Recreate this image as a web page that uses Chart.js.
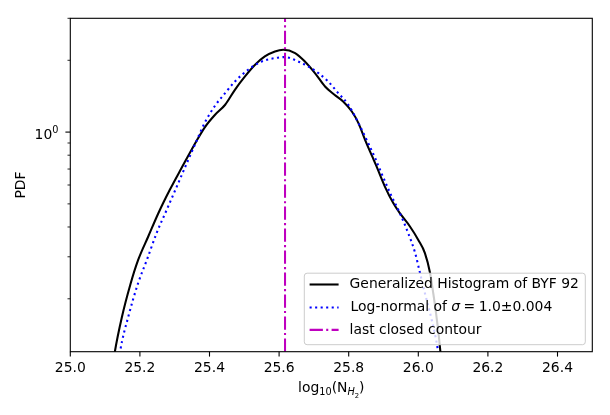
<!DOCTYPE html>
<html><head><meta charset="utf-8">
<script src="https://cdn.jsdelivr.net/npm/chart.js@4/dist/chart.umd.min.js"></script>
<style>html,body{margin:0;padding:0;background:#fff}canvas{display:block}</style>
</head><body>
<canvas id="c" width="610" height="415" style="width:610px;height:415px"></canvas>
<script>
// ---- data ----
const histX = [25.120, 25.128, 25.148, 25.172, 25.195, 25.224, 25.253, 25.286, 25.320, 25.363, 25.387, 25.416, 25.445, 25.473, 25.502, 25.531, 25.559, 25.588, 25.612, 25.646, 25.674, 25.703, 25.732, 25.759, 25.784, 25.809, 25.828, 25.847, 25.866, 25.880, 25.904, 25.928, 25.947, 25.976, 26.000, 26.019, 26.034, 26.043, 26.051, 26.060, 26.063, 26.067];
const histY = [0.100, 0.120, 0.167, 0.228, 0.291, 0.365, 0.457, 0.573, 0.708, 0.920, 1.050, 1.182, 1.302, 1.504, 1.711, 1.915, 2.075, 2.177, 2.213, 2.144, 1.977, 1.768, 1.553, 1.434, 1.344, 1.220, 1.091, 0.928, 0.800, 0.718, 0.591, 0.504, 0.457, 0.402, 0.353, 0.311, 0.256, 0.211, 0.174, 0.135, 0.122, 0.108];
const lognX = [25.136, 25.143, 25.167, 25.195, 25.220, 25.248, 25.277, 25.306, 25.339, 25.363, 25.387, 25.416, 25.445, 25.473, 25.511, 25.550, 25.588, 25.617, 25.655, 25.684, 25.713, 25.741, 25.770, 25.799, 25.828, 25.856, 25.876, 25.890, 25.919, 25.947, 25.971, 25.991, 26.005, 26.019, 26.034, 26.051, 26.057, 26.062];
const lognY = [0.100, 0.120, 0.169, 0.233, 0.291, 0.377, 0.472, 0.591, 0.765, 0.920, 1.100, 1.290, 1.457, 1.630, 1.825, 1.977, 2.043, 2.063, 1.977, 1.884, 1.768, 1.630, 1.457, 1.302, 1.091, 0.899, 0.778, 0.695, 0.555, 0.457, 0.377, 0.311, 0.256, 0.211, 0.174, 0.135, 0.120, 0.108];
const contourX = 25.617;
const xTicks = [25.0, 25.2, 25.4, 25.6, 25.8, 26.0, 26.2, 26.4];
const yMajorTicks = [1];
const yMinorTicks = [0.2, 0.3, 0.4, 0.5, 0.6, 0.7, 0.8, 0.9, 2, 3];
const xMin = 25.0, xMax = 26.5, yMin = 0.12, yMax = 3.0;
const seriesLabels = ["Generalized Histogram of BYF 92", "Log-normal of ", "last closed contour"];

const FS = 13.9;
const FONT = '"DejaVu Sans"';
const f = (s, style) => (style || '') + ' ' + s + 'px ' + FONT;

function pts(xs, ys) { return xs.map((x, i) => ({x: x, y: ys[i]})); }

const customPlugin = {
  id: 'custom',
  beforeDraw(chart) {
    const ctx = chart.ctx;
    ctx.save();
    ctx.fillStyle = '#fff';
    ctx.fillRect(0, 0, chart.width, chart.height);
    ctx.restore();
  },
  afterDraw(chart) {
    const ctx = chart.ctx, a = chart.chartArea, xs = chart.scales.x, ys = chart.scales.y;
    ctx.save();
    // spines
    ctx.strokeStyle = '#000';
    ctx.lineWidth = 1.1;
    ctx.strokeRect(a.left, a.top, a.right - a.left, a.bottom - a.top);
    // x ticks
    ctx.lineWidth = 1.1;
    ctx.fillStyle = '#000';
    ctx.font = f(FS);
    ctx.textAlign = 'center';
    ctx.textBaseline = 'alphabetic';
    xTicks.forEach(t => {
      const px = xs.getPixelForValue(t);
      ctx.beginPath(); ctx.moveTo(px, a.bottom); ctx.lineTo(px, a.bottom + 4.9); ctx.stroke();
      ctx.fillText(t.toFixed(1), px, a.bottom + 19.8);
    });
    // y ticks
    yMajorTicks.forEach(t => {
      const py = ys.getPixelForValue(t);
      ctx.lineWidth = 1.1;
      ctx.beginPath(); ctx.moveTo(a.left, py); ctx.lineTo(a.left - 4.9, py); ctx.stroke();
      const exp = String(Math.round(Math.log10(t)));
      ctx.font = f(FS);
      const w1 = ctx.measureText('10').width;
      ctx.font = f(FS * 0.7);
      const w2 = ctx.measureText(exp).width;
      const right = a.left - 4.9 - 7;
      ctx.textAlign = 'left';
      ctx.font = f(FS);
      ctx.fillText('10', right - w1 - w2, py + 7);
      ctx.font = f(FS * 0.7);
      ctx.fillText(exp, right - w2, py + 0.8);
    });
    yMinorTicks.forEach(t => {
      const py = ys.getPixelForValue(t);
      ctx.lineWidth = 0.85;
      ctx.beginPath(); ctx.moveTo(a.left, py); ctx.lineTo(a.left - 2.8, py); ctx.stroke();
    });
    // y label
    ctx.save();
    ctx.translate(21.7, (a.top + a.bottom) / 2);
    ctx.rotate(-Math.PI / 2);
    ctx.font = f(FS);
    ctx.textAlign = 'center';
    ctx.textBaseline = 'middle';
    ctx.fillText('PDF', 0, 0);
    ctx.restore();
    // x label: log_10(N_{H_2})
    const parts = [
      {t: 'log', s: FS, dy: 0, st: ''},
      {t: '10', s: FS * 0.7, dy: 3.3, st: ''},
      {t: '(N', s: FS, dy: 0, st: ''},
      {t: 'H', s: FS * 0.7, dy: 3.3, st: 'italic'},
      {t: '2', s: FS * 0.49, dy: 5.8, st: ''},
      {t: ')', s: FS, dy: 0, st: ''}
    ];
    ctx.textAlign = 'left';
    ctx.textBaseline = 'alphabetic';
    let tw = 0;
    parts.forEach(p => { ctx.font = f(p.s, p.st); p.w = ctx.measureText(p.t).width; tw += p.w; });
    let cx = (a.left + a.right) / 2 - tw / 2;
    const base = a.bottom + 40;
    parts.forEach(p => { ctx.font = f(p.s, p.st); ctx.fillText(p.t, cx, base + p.dy); cx += p.w; });

    // legend
    const lw = 281, lh = 71.5;
    const lx = a.right - 7 - lw, ly = a.bottom - 7 - lh;
    ctx.beginPath();
    const r = 2.8;
    ctx.moveTo(lx + r, ly);
    ctx.arcTo(lx + lw, ly, lx + lw, ly + lh, r);
    ctx.arcTo(lx + lw, ly + lh, lx, ly + lh, r);
    ctx.arcTo(lx, ly + lh, lx, ly, r);
    ctx.arcTo(lx, ly, lx + lw, ly, r);
    ctx.closePath();
    ctx.fillStyle = 'rgba(255,255,255,0.8)';
    ctx.fill();
    ctx.strokeStyle = '#cccccc';
    ctx.lineWidth = 1;
    ctx.stroke();
    const rows = [ly + 11.3, ly + 34.3, ly + 56.7];
    chart.data.datasets.forEach((ds, i) => {
      const y = rows[i];
      ctx.strokeStyle = ds.borderColor;
      ctx.lineWidth = ds.borderWidth;
      ctx.setLineDash(ds.borderDash || []);
      ctx.beginPath(); ctx.moveTo(lx + 5.3, y); ctx.lineTo(lx + 34.3, y); ctx.stroke();
      ctx.setLineDash([]);
      ctx.fillStyle = '#000';
      ctx.textBaseline = 'middle';
      ctx.font = f(FS);
      let tx = lx + 45.3;
      if (i === 1) tx += 1;
      ctx.fillText(seriesLabels[i], tx, y);
      if (i === 1) {
        tx += ctx.measureText(seriesLabels[i]).width;
        ctx.font = f(FS, 'italic');
        ctx.fillText('\u03c3', tx, y);
        tx += ctx.measureText('\u03c3').width + 3.5;
        ctx.font = f(FS);
        ctx.fillText('=', tx, y);
        tx += ctx.measureText('=').width + 3.5;
        ctx.fillText('1.0\u00b10.004', tx, y);
      }
    });
    ctx.restore();
  }
};

new Chart(document.getElementById('c'), {
  type: 'scatter',
  data: {
    datasets: [
      {label: seriesLabels[0], data: pts(histX, histY), showLine: true, pointRadius: 0,
       borderColor: '#000000', borderWidth: 2.08, cubicInterpolationMode: 'monotone', order: 3},
      {label: seriesLabels[1], data: pts(lognX, lognY), showLine: true, pointRadius: 0,
       borderColor: '#0000ff', borderWidth: 2.08, borderDash: [2.08, 3.44], cubicInterpolationMode: 'monotone', order: 2},
      {label: seriesLabels[2], data: [{x: contourX, y: yMin}, {x: contourX, y: yMax}], showLine: true, pointRadius: 0,
       borderColor: '#bf00bf', borderWidth: 2.08, borderDash: [13.3, 3.3, 2.08, 3.3], order: 1}
    ]
  },
  options: {
    responsive: false,
    animation: false,
    devicePixelRatio: 1,
    layout: {padding: {left: 0, top: 18.3, right: 17.7, bottom: 0}},
    plugins: {legend: {display: false}, tooltip: {enabled: false}},
    scales: {
      x: {type: 'linear', min: xMin, max: xMax,
          ticks: {display: false}, grid: {display: false}, border: {display: false},
          afterFit: s => { s.height = 63.3; }},
      y: {type: 'logarithmic', min: yMin, max: yMax,
          ticks: {display: false}, grid: {display: false}, border: {display: false},
          afterFit: s => { s.width = 70.3; }}
    }
  },
  plugins: [customPlugin]
});
</script>
</body></html>
